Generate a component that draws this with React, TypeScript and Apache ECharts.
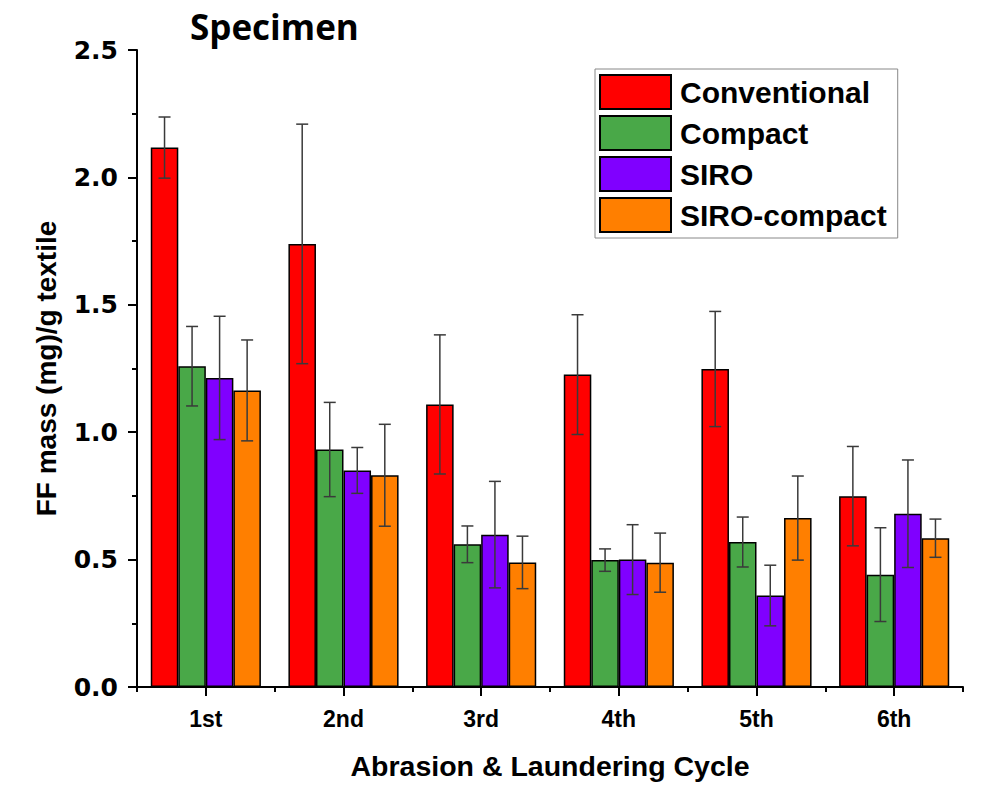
import React, { useEffect, useRef } from "react";
import * as echarts from "echarts";

const categories = ["1st", "2nd", "3rd", "4th", "5th", "6th"];
const seriesNames = ["Conventional", "Compact", "SIRO", "SIRO-compact"];
const conventional = [2.117, 1.739, 1.109, 1.226, 1.248, 0.749];
const compact = [1.259, 0.932, 0.56, 0.498, 0.569, 0.441];
const siro = [1.213, 0.85, 0.598, 0.5, 0.359, 0.68];
const siroCompact = [1.164, 0.831, 0.489, 0.488, 0.663, 0.584];
const conventionalErr = [0.12, 0.47, 0.273, 0.235, 0.226, 0.195];
const compactErr = [0.156, 0.185, 0.072, 0.044, 0.098, 0.184];
const siroErr = [0.242, 0.09, 0.209, 0.137, 0.119, 0.211];
const siroCompactErr = [0.198, 0.2, 0.103, 0.116, 0.165, 0.075];
const yTicks = [0, 0.5, 1.0, 1.5, 2.0, 2.5];

const colors = ["#ff0000", "#49a848", "#8000ff", "#ff7f00"];
const values = [conventional, compact, siro, siroCompact];
const errs = [conventionalErr, compactErr, siroErr, siroCompactErr];

const FONT = "'Liberation Sans', Arial, sans-serif";

export default function App() {
  const ref = useRef<HTMLDivElement>(null);
  useEffect(() => {
    if (!ref.current) return;
    const chart = echarts.init(ref.current, null, { renderer: "svg" });
    const BAR_FRAC = 0.2;
    const barSeries = seriesNames.map((name, k) => ({
      name,
      type: "bar",
      data: values[k],
      barWidth: "20%",
      barGap: "0%",
      itemStyle: { color: colors[k], borderColor: "#000", borderWidth: 1.5 },
      z: 2,
    }));
    const errSeries = seriesNames.map((name, k) => ({
      name: name + "-err",
      type: "custom",
      data: values[k].map((v, i) => [i, v, errs[k][i]]),
      encode: { x: 0, y: 1 },
      z: 5,
      renderItem: (params: any, api: any) => {
        const cat = api.value(0);
        const v = api.value(1);
        const e = api.value(2);
        const c = api.coord([cat, v]);
        const bw = api.size([1, 0])[0] * BAR_FRAC;
        const x = c[0] + (k - 1.5) * bw;
        const top = api.coord([cat, v + e])[1];
        const bot = api.coord([cat, v - e])[1];
        const hw = 6;
        const style = { stroke: "#3a3a3a", lineWidth: 1.5 };
        return {
          type: "group",
          children: [
            { type: "line", shape: { x1: x, y1: top, x2: x, y2: bot }, style },
            { type: "line", shape: { x1: x - hw, y1: top, x2: x + hw, y2: top }, style },
            { type: "line", shape: { x1: x - hw, y1: bot, x2: x + hw, y2: bot }, style },
          ],
        };
      },
    }));
    chart.setOption({
      animation: false,
      backgroundColor: "#ffffff",
      title: {
        text: "Specimen",
        left: 185,
        top: 4,
        textStyle: { fontFamily: "'Open Sans', sans-serif", fontWeight: "bold", fontSize: 35, color: "#000" },
      },
      legend: {
        data: seriesNames,
        orient: "vertical",
        left: 595,
        top: 69,
        itemWidth: 71,
        itemHeight: 34,
        itemGap: 5,
        padding: [5, 11, 5, 4],
        borderColor: "#888",
        borderWidth: 1,
        icon: "rect",
        textStyle: { fontFamily: FONT, fontWeight: "bold", fontSize: 30, color: "#000", padding: [0, 0, 0, 4] },
      },
      grid: { left: 137, right: 30, top: 50, bottom: 94, containLabel: false },
      xAxis: [
        {
          type: "category",
          data: categories,
          name: "Abrasion & Laundering Cycle",
          nameLocation: "middle",
          nameGap: 64,
          nameTextStyle: { fontFamily: FONT, fontWeight: "bold", fontSize: 28.5, color: "#000" },
          axisLine: { show: true, lineStyle: { color: "#000", width: 2 } },
          axisTick: { show: true, alignWithLabel: true, length: 9, lineStyle: { color: "#000", width: 2 } },
          axisLabel: { fontFamily: FONT, fontWeight: "bold", fontSize: 23, color: "#000", margin: 20 },
        },
        {
          type: "category",
          data: categories,
          position: "bottom",
          axisLine: { show: false },
          axisTick: { show: true, length: 5, lineStyle: { color: "#000", width: 2 } },
          axisLabel: { show: false },
        },
      ],
      yAxis: {
        type: "value",
        min: yTicks[0],
        max: yTicks[yTicks.length - 1],
        interval: 0.5,
        name: "FF mass (mg)/g textile",
        nameLocation: "middle",
        nameGap: 77,
        nameTextStyle: { fontFamily: FONT, fontWeight: "bold", fontSize: 28, color: "#000" },
        axisLine: { show: true, lineStyle: { color: "#000", width: 2 } },
        axisTick: { show: true, length: 9, lineStyle: { color: "#000", width: 2 } },
        minorTick: { show: true, splitNumber: 2, length: 5, lineStyle: { color: "#000", width: 2 } },
        splitLine: { show: false },
        axisLabel: {
          fontFamily: "'DejaVu Sans', sans-serif",
          fontWeight: "bold",
          fontSize: 25,
          color: "#000",
          margin: 19,
          formatter: (v: number) => v.toFixed(1),
        },
      },
      series: [...barSeries, ...errSeries],
    });
    return () => chart.dispose();
  }, []);
  return (
    <div
      ref={ref}
      style={{ position: "absolute", left: 0, top: 0, width: 993, height: 785 }}
    />
  );
}
